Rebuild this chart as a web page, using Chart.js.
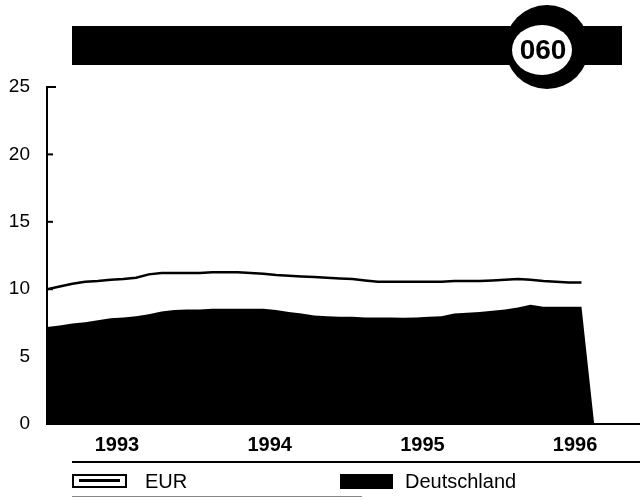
<!DOCTYPE html>
<html>
<head>
<meta charset="utf-8">
<script src="https://cdn.jsdelivr.net/npm/chart.js@4.4.1/dist/chart.umd.min.js"></script>
<style>
  html, body { margin: 0; padding: 0; background: #fff; }
  #wrap { position: relative; width: 640px; height: 500px; font-family: "Liberation Sans", Arial, sans-serif; }
  #chart { position: absolute; left: 0; top: 0; }
  .rule { position: absolute; height: 2px; background: #000; }
  .leg { position: absolute; font-size: 20px; color: #000; line-height: 20px; }
  .box-eur { position: absolute; left: 72px; top: 474px; width: 51px; height: 10px; border: 2px solid #000; }
  .box-eur::after { content: ""; position: absolute; left: 5px; right: 5px; top: 3px; height: 3px; background: #000; }
  .box-de { position: absolute; left: 340px; top: 474px; width: 53px; height: 15px; background: #000; }
</style>
</head>
<body>
<div id="wrap">
  <canvas id="chart" width="640" height="500"></canvas>
  <div class="rule" style="left:72px; top:461px; width:568px;"></div>
  <div class="box-eur"></div>
  <div class="leg" style="left:145px; top:471px;">EUR</div>
  <div class="box-de"></div>
  <div class="leg" style="left:405px; top:471px;">Deutschland</div>
  <div class="rule" style="left:72px; top:496px; width:290px; height:1px; background:#888;"></div>
</div>
<script>
// monthly values, Jan 1993 .. Jul 1996 (Deutschland drops to 0 in Aug 1996)
const years = ['1993', '1994', '1995', '1996'];
const yearMid = [5.5, 17.5, 29.5, 41.5]; // month index of mid-year

const eur = [
  10.0, 10.2, 10.4, 10.55, 10.6, 10.7, 10.75, 10.85, 11.1, 11.2, 11.2, 11.2,
  11.2, 11.25, 11.25, 11.25, 11.2, 11.15, 11.05, 11.0, 10.95, 10.9, 10.85, 10.8,
  10.75, 10.65, 10.55, 10.55, 10.55, 10.55, 10.55, 10.55, 10.6, 10.6, 10.6, 10.65,
  10.7, 10.75, 10.7, 10.6, 10.55, 10.5, 10.5, null
];
const deutschland = [
  7.2, 7.3, 7.45, 7.55, 7.7, 7.85, 7.9, 8.0, 8.15, 8.35, 8.45, 8.5,
  8.5, 8.55, 8.55, 8.55, 8.55, 8.55, 8.45, 8.3, 8.2, 8.05, 8.0, 7.95,
  7.95, 7.9, 7.9, 7.9, 7.88, 7.9, 7.95, 8.0, 8.2, 8.25, 8.3, 8.4,
  8.5, 8.65, 8.85, 8.7, 8.7, 8.7, 8.7, 0
];
const yTicks = [0, 5, 10, 15, 20, 25];

const toPoints = arr => arr.map((v, i) => ({ x: i, y: v }));

// title bar with the round badge, and inward ticks on the y axis
const decor = {
  id: 'decor',
  afterDraw(chart) {
    const c = chart.ctx;
    c.save();
    c.fillStyle = '#000';
    c.fillRect(72, 26, 550, 39);
    c.beginPath();
    c.arc(547, 47, 42, 0, Math.PI * 2);
    c.fill();
    c.fillStyle = '#fff';
    c.beginPath();
    c.ellipse(542, 50, 30, 25, 0, 0, Math.PI * 2);
    c.fill();
    c.fillStyle = '#000';
    c.font = 'bold 28px "Liberation Sans", Arial, sans-serif';
    c.textAlign = 'center';
    c.textBaseline = 'middle';
    c.fillText('060', 543, 51);

    const y = chart.scales.y, x0 = chart.chartArea.left;
    c.strokeStyle = '#000';
    c.lineWidth = 2;
    yTicks.forEach(t => {
      const py = y.getPixelForValue(t);
      c.beginPath();
      c.moveTo(x0, py);
      c.lineTo(x0 + (t === 25 ? 9 : 6), py);
      c.stroke();
    });
    c.restore();
  }
};

new Chart(document.getElementById('chart'), {
  type: 'line',
  data: {
    datasets: [
      {
        label: 'EUR',
        data: toPoints(eur),
        borderColor: '#000',
        borderWidth: 2.5,
        pointRadius: 0,
        fill: false,
        order: 0
      },
      {
        label: 'Deutschland',
        data: toPoints(deutschland),
        borderColor: '#000',
        borderWidth: 0,
        backgroundColor: '#000',
        pointRadius: 0,
        fill: 'origin',
        order: 1
      }
    ]
  },
  options: {
    responsive: false,
    animation: false,
    layout: { padding: { top: 87, left: 0, right: 0, bottom: 0 } },
    plugins: { legend: { display: false }, tooltip: { enabled: false } },
    scales: {
      x: {
        type: 'linear',
        min: 0,
        max: 46.6,
        afterBuildTicks: s => { s.ticks = yearMid.map(v => ({ value: v })); },
        afterFit: s => { s.height = 76; },
        grid: { display: false, drawTicks: false },
        border: { display: true, color: '#000', width: 2 },
        ticks: {
          padding: 9,
          color: '#000',
          font: { family: '"Liberation Sans", Arial, sans-serif', size: 20, weight: 'bold' },
          maxRotation: 0,
          autoSkip: false,
          callback: v => years[yearMid.indexOf(v)]
        }
      },
      y: {
        min: 0,
        max: 25,
        afterBuildTicks: s => { s.ticks = yTicks.map(v => ({ value: v })); },
        afterFit: s => { s.width = 47; },
        grid: { display: false, drawTicks: false },
        border: { display: true, color: '#000', width: 2 },
        ticks: {
          padding: 17,
          color: '#000',
          font: { family: '"Liberation Sans", Arial, sans-serif', size: 19 }
        }
      }
    }
  },
  plugins: [decor]
});
</script>
</body>
</html>
